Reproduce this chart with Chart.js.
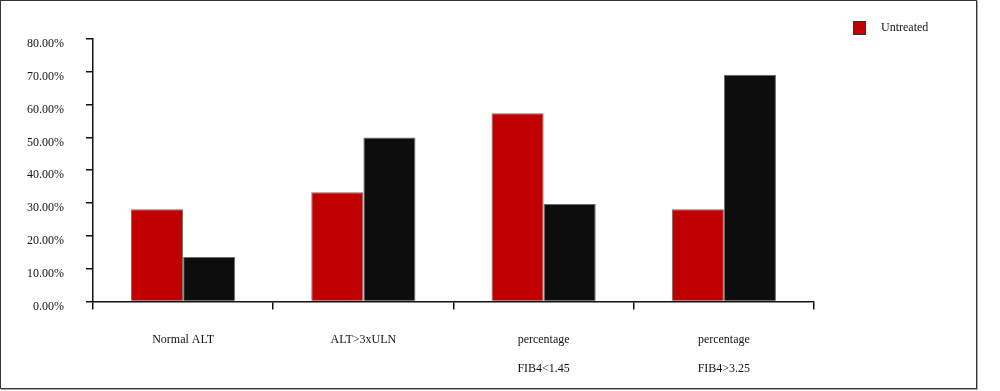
<!DOCTYPE html>
<html>
<head>
<meta charset="utf-8">
<script src="https://cdn.jsdelivr.net/npm/chart.js@4"></script>
<style>
  body { margin: 0; background: #fff; }
  #frame {
    position: absolute; left: 0; top: 0;
    width: 975px; height: 387px;
    border: 1px solid #333;
    box-shadow: 1px 1px 0 #aaa;
    background: #fff;
    overflow: hidden;
  }
  #chartBox { position: absolute; left: 0; top: 0; width: 975px; height: 398px; }
  #legend {
    position: absolute; left: 852px; top: 19px;
    font-family: "Liberation Serif", serif; font-size: 12px; color: #111;
    display: flex; align-items: center;
  }
  #legend .swatch {
    width: 11px; height: 12px; background: #c00000;
    border: 1px solid #333; margin-right: 15px;
  }
</style>
</head>
<body>
<div id="frame">
  <div id="chartBox"><canvas id="barChart"></canvas></div>
  <div id="legend"><span class="swatch"></span><span>Untreated</span></div>
</div>
<script>
  // categories (two-line labels as in the source)
  const categories = [
    ["Normal ALT"],
    ["ALT>3xULN"],
    ["percentage", "FIB4<1.45"],
    ["percentage", "FIB4>3.25"]
  ];
  const untreated = [28.1, 33.3, 57.4, 28.1];
  const treated = [13.5, 50.0, 29.7, 69.1];
  const yTicks = [0, 10, 20, 30, 40, 50, 60, 70, 80];

  const fontFamily = '"Liberation Serif", serif';

  const ctx = document.getElementById("barChart").getContext("2d");
  new Chart(ctx, {
    type: "bar",
    data: {
      labels: categories,
      datasets: [
        {
          label: "Untreated",
          data: untreated,
          backgroundColor: "#c00000",
          borderColor: "#6b6b6b",
          borderWidth: 1
        },
        {
          label: "Treated",
          data: treated,
          backgroundColor: "#0d0d0d",
          borderColor: "#6b6b6b",
          borderWidth: 1
        }
      ]
    },
    options: {
      responsive: true,
      maintainAspectRatio: false,
      animation: false,
      layout: { padding: { left: 4, top: 38, right: 162, bottom: 0 } },
      categoryPercentage: 0.578,
      barPercentage: 1.0,
      plugins: {
        legend: { display: false },
        tooltip: { enabled: false }
      },
      scales: {
        y: {
          min: 0,
          max: 80,
          afterBuildTicks: (axis) => { axis.ticks = yTicks.map(v => ({ value: v })); },
          border: { display: true, color: "#111", width: 1.5 },
          grid: { drawOnChartArea: false, drawTicks: true, tickLength: 7, color: "#111", lineWidth: 1.5 },
          ticks: {
            padding: 22,
            labelOffset: 5,
            color: "#111",
            font: { family: fontFamily, size: 12 },
            callback: (v) => v.toFixed(2) + "%"
          }
        },
        x: {
          border: { display: true, color: "#111", width: 1.5 },
          grid: { offset: true, drawOnChartArea: false, drawTicks: true, tickLength: 8, color: "#111", lineWidth: 1.5 },
          ticks: {
            padding: 16,
            maxRotation: 0,
            color: "#111",
            font: { family: fontFamily, size: 12, lineHeight: 2.4 }
          }
        }
      }
    }
  });
</script>
</body>
</html>
